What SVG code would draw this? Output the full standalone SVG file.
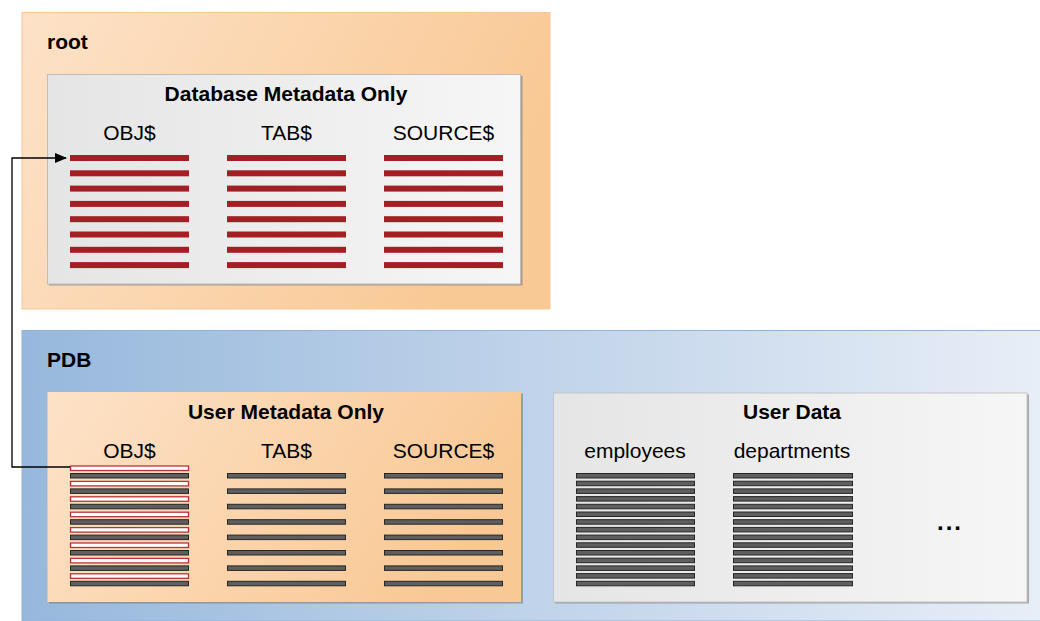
<svg xmlns="http://www.w3.org/2000/svg" width="1040" height="621" viewBox="0 0 1040 621">
<defs>
<linearGradient id="gOrange" x1="0" y1="0" x2="1" y2="0.3">
<stop offset="0" stop-color="#fde2c8"/>
<stop offset="1" stop-color="#f9c995"/>
</linearGradient>
<linearGradient id="gBlue" x1="0" y1="0" x2="1" y2="0">
<stop offset="0" stop-color="#97b8dc"/>
<stop offset="1" stop-color="#e8eef7"/>
</linearGradient>
<linearGradient id="gGray" x1="0" y1="0" x2="1" y2="0">
<stop offset="0" stop-color="#e5e5e5"/>
<stop offset="1" stop-color="#f6f6f6"/>
</linearGradient>
<marker id="arr" markerWidth="12" markerHeight="10" refX="11" refY="5" orient="auto" markerUnits="userSpaceOnUse">
<path d="M0,0 L12,5 L0,10 Z" fill="#000"/>
</marker>
</defs>
<style>
.t{font-family:"Liberation Sans",Arial,sans-serif;font-size:21px;fill:#000}
.b{font-weight:bold}
.red{fill:#a31f24}
.dk{fill:#5f5f5f;stroke:#262626;stroke-width:1}
.wh{fill:#ffffff;stroke:#b8343a;stroke-width:1.3}
.shadow{fill:#7a7a7a;opacity:0.6}
</style>

<g id="root">
<rect x="22" y="12.5" width="528" height="296.5" fill="url(#gOrange)" stroke="#f6c896" stroke-width="1"/>
<text class="t b" x="47" y="49">root</text>
</g>

<g id="db-metadata">
<rect x="49" y="76" width="473.5" height="209.5" class="shadow"/>
<rect x="47.5" y="74.5" width="473" height="209.5" fill="url(#gGray)" stroke="#bdbdbd" stroke-width="1"/>
<text class="t b" x="286" y="101" text-anchor="middle">Database Metadata Only</text>
<text class="t" x="129.5" y="140" text-anchor="middle">OBJ$</text>
<text class="t" x="286.5" y="140" text-anchor="middle">TAB$</text>
<text class="t" x="443.5" y="140" text-anchor="middle">SOURCE$</text>
<g class="red">
<rect x="70" y="155" width="119" height="6"/><rect x="70" y="170.3" width="119" height="6"/><rect x="70" y="185.6" width="119" height="6"/><rect x="70" y="200.9" width="119" height="6"/><rect x="70" y="216.2" width="119" height="6"/><rect x="70" y="231.5" width="119" height="6"/><rect x="70" y="246.8" width="119" height="6"/><rect x="70" y="262.1" width="119" height="6"/>
<rect x="227" y="155" width="119" height="6"/><rect x="227" y="170.3" width="119" height="6"/><rect x="227" y="185.6" width="119" height="6"/><rect x="227" y="200.9" width="119" height="6"/><rect x="227" y="216.2" width="119" height="6"/><rect x="227" y="231.5" width="119" height="6"/><rect x="227" y="246.8" width="119" height="6"/><rect x="227" y="262.1" width="119" height="6"/>
<rect x="384" y="155" width="119" height="6"/><rect x="384" y="170.3" width="119" height="6"/><rect x="384" y="185.6" width="119" height="6"/><rect x="384" y="200.9" width="119" height="6"/><rect x="384" y="216.2" width="119" height="6"/><rect x="384" y="231.5" width="119" height="6"/><rect x="384" y="246.8" width="119" height="6"/><rect x="384" y="262.1" width="119" height="6"/>
</g>
</g>

<g id="pdb">
<rect x="22" y="330.5" width="1020" height="290.5" fill="url(#gBlue)" stroke="#93b3d8" stroke-width="1"/>
<text class="t b" x="47" y="367">PDB</text>
</g>

<g id="user-metadata">
<rect x="49" y="393.5" width="474" height="210" class="shadow"/>
<rect x="47.5" y="392" width="473.5" height="210" fill="url(#gOrange)"/>
<text class="t b" x="286" y="419" text-anchor="middle">User Metadata Only</text>
<text class="t" x="129.5" y="458" text-anchor="middle">OBJ$</text>
<text class="t" x="286.5" y="458" text-anchor="middle">TAB$</text>
<text class="t" x="443.5" y="458" text-anchor="middle">SOURCE$</text>
<g>
<rect class="wh" x="70.5" y="466" width="118" height="4.5"/><rect class="dk" x="70.5" y="473.5" width="118" height="4.5"/>
<rect class="wh" x="70.5" y="481.4" width="118" height="4.5"/><rect class="dk" x="70.5" y="488.9" width="118" height="4.5"/>
<rect class="wh" x="70.5" y="496.8" width="118" height="4.5"/><rect class="dk" x="70.5" y="504.3" width="118" height="4.5"/>
<rect class="wh" x="70.5" y="512.2" width="118" height="4.5"/><rect class="dk" x="70.5" y="519.7" width="118" height="4.5"/>
<rect class="wh" x="70.5" y="527.6" width="118" height="4.5"/><rect class="dk" x="70.5" y="535.1" width="118" height="4.5"/>
<rect class="wh" x="70.5" y="543" width="118" height="4.5"/><rect class="dk" x="70.5" y="550.5" width="118" height="4.5"/>
<rect class="wh" x="70.5" y="558.4" width="118" height="4.5"/><rect class="dk" x="70.5" y="565.9" width="118" height="4.5"/>
<rect class="wh" x="70.5" y="573.8" width="118" height="4.5"/><rect class="dk" x="70.5" y="581.3" width="118" height="4.5"/>
</g>
<g class="dk">
<rect x="227.5" y="473.5" width="118" height="4.5"/><rect x="227.5" y="488.9" width="118" height="4.5"/><rect x="227.5" y="504.3" width="118" height="4.5"/><rect x="227.5" y="519.7" width="118" height="4.5"/><rect x="227.5" y="535.1" width="118" height="4.5"/><rect x="227.5" y="550.5" width="118" height="4.5"/><rect x="227.5" y="565.9" width="118" height="4.5"/><rect x="227.5" y="581.3" width="118" height="4.5"/>
<rect x="384.5" y="473.5" width="118" height="4.5"/><rect x="384.5" y="488.9" width="118" height="4.5"/><rect x="384.5" y="504.3" width="118" height="4.5"/><rect x="384.5" y="519.7" width="118" height="4.5"/><rect x="384.5" y="535.1" width="118" height="4.5"/><rect x="384.5" y="550.5" width="118" height="4.5"/><rect x="384.5" y="565.9" width="118" height="4.5"/><rect x="384.5" y="581.3" width="118" height="4.5"/>
</g>
</g>

<g id="user-data">
<rect x="555" y="394.5" width="474" height="209" class="shadow"/>
<rect x="553.5" y="393" width="473.5" height="209" fill="url(#gGray)" stroke="#c4c4c4" stroke-width="1"/>
<text class="t b" x="792" y="419" text-anchor="middle">User Data</text>
<text class="t" x="635" y="458" text-anchor="middle">employees</text>
<text class="t" x="792" y="458" text-anchor="middle">departments</text>
<g class="dk">
<rect x="576.5" y="473.5" width="118" height="4.5"/><rect x="576.5" y="481.2" width="118" height="4.5"/><rect x="576.5" y="488.9" width="118" height="4.5"/><rect x="576.5" y="496.6" width="118" height="4.5"/><rect x="576.5" y="504.3" width="118" height="4.5"/><rect x="576.5" y="512" width="118" height="4.5"/><rect x="576.5" y="519.7" width="118" height="4.5"/><rect x="576.5" y="527.4" width="118" height="4.5"/><rect x="576.5" y="535.1" width="118" height="4.5"/><rect x="576.5" y="542.8" width="118" height="4.5"/><rect x="576.5" y="550.5" width="118" height="4.5"/><rect x="576.5" y="558.2" width="118" height="4.5"/><rect x="576.5" y="565.9" width="118" height="4.5"/><rect x="576.5" y="573.6" width="118" height="4.5"/><rect x="576.5" y="581.3" width="118" height="4.5"/>
<rect x="733.5" y="473.5" width="119" height="4.5"/><rect x="733.5" y="481.2" width="119" height="4.5"/><rect x="733.5" y="488.9" width="119" height="4.5"/><rect x="733.5" y="496.6" width="119" height="4.5"/><rect x="733.5" y="504.3" width="119" height="4.5"/><rect x="733.5" y="512" width="119" height="4.5"/><rect x="733.5" y="519.7" width="119" height="4.5"/><rect x="733.5" y="527.4" width="119" height="4.5"/><rect x="733.5" y="535.1" width="119" height="4.5"/><rect x="733.5" y="542.8" width="119" height="4.5"/><rect x="733.5" y="550.5" width="119" height="4.5"/><rect x="733.5" y="558.2" width="119" height="4.5"/><rect x="733.5" y="565.9" width="119" height="4.5"/><rect x="733.5" y="573.6" width="119" height="4.5"/><rect x="733.5" y="581.3" width="119" height="4.5"/>
</g>
<text class="t b" x="950" y="530" text-anchor="middle" letter-spacing="2" style="font-size:24px">...</text>
</g>

<g id="connectors">
<path d="M70,467 H12 V158 H66" fill="none" stroke="#000" stroke-width="1.3" marker-end="url(#arr)"/>
</g>
</svg>
